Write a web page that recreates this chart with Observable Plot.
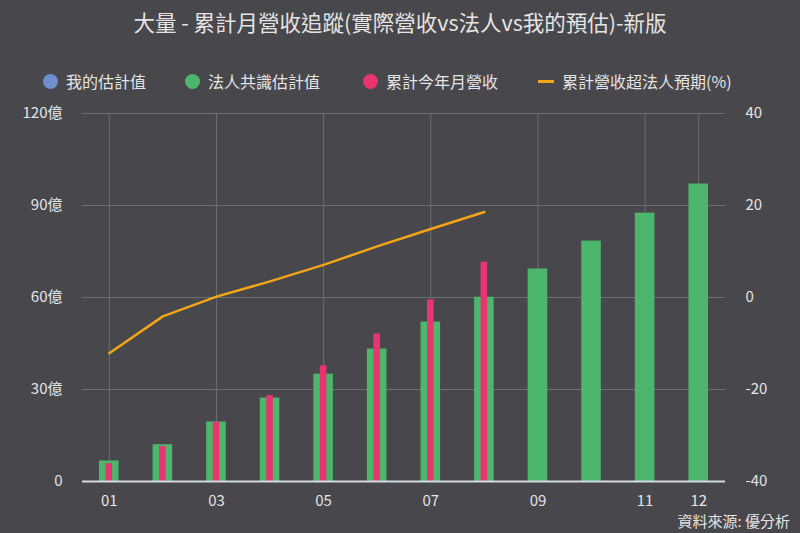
<!DOCTYPE html>
<html>
<head>
<meta charset="utf-8">
<script src="https://cdn.jsdelivr.net/npm/d3@7"></script>
<script src="https://cdn.jsdelivr.net/npm/@observablehq/plot@0.6"></script>
<style>
  body { margin: 0; background: #48474c; }
  #wrap { position: relative; width: 800px; height: 533px; background: #48474c; overflow: hidden;
          font-family: "Noto Sans CJK TC", "Noto Sans", sans-serif; color: #e4e4e4; }
  #title { position: absolute; top: 6px; left: 0; width: 800px; text-align: center; font-size: 21.5px; }
  .lg { position: absolute; top: 69px; font-size: 16px; white-space: nowrap; display: flex; align-items: center; }
  .dot { width: 15px; height: 15px; border-radius: 50%; display: inline-block; margin-right: 8px; }
  .ln { width: 16px; height: 3px; display: inline-block; margin-right: 8px; }
  #chart { position: absolute; top: 95px; left: 0; }
  #caption { position: absolute; right: 10px; top: 510px; font-size: 15px; }
</style>
</head>
<body>
<div id="wrap">
  <div id="title">大量 - 累計月營收追蹤(實際營收vs法人vs我的預估)-新版</div>
  <div id="legend"></div>
  <div id="chart"></div>
  <div id="caption">資料來源: 優分析</div>
</div>
<script>
const months = ["01","02","03","04","05","06","07","08","09","10","11","12"];
const consensus = [6.7, 12.0, 19.4, 27.2, 35.0, 43.2, 52.0, 60.1, 69.3, 78.4, 87.5, 97.0];
const actual = [5.8, 11.4, 19.3, 28.0, 37.7, 48.1, 59.2, 71.5];
const beatPct = [-12.1, -4.1, 0.2, 3.5, 7.1, 11.1, 14.9, 18.6];
const leftTicks = [0, 30, 60, 90, 120];
const rightTicks = [-40, -20, 0, 20, 40];
const xTickLabels = ["01","03","05","07","09","11","12"];
const legendNames = ["我的估計值", "法人共識估計值", "累計今年月營收", "累計營收超法人預期(%)"];
const colors = ["#6f8fcf", "#4bb66c", "#e8356f", "#f2a516"];

// legend
const legendLeft = [43, 185, 363, 538];
const lg = document.getElementById("legend");
legendNames.forEach((n, i) => {
  const d = document.createElement("div");
  d.className = "lg";
  d.style.left = legendLeft[i] + "px";
  const sw = document.createElement("span");
  sw.className = i === 3 ? "ln" : "dot";
  sw.style.background = colors[i];
  d.appendChild(sw);
  d.appendChild(document.createTextNode(n));
  lg.appendChild(d);
});

const lMin = leftTicks[0], lMax = leftTicks[leftTicks.length - 1];
const rMin = rightTicks[0], rMax = rightTicks[rightTicks.length - 1];
const toLeft = p => lMin + (p - rMin) / (rMax - rMin) * (lMax - lMin);

const consRows = months.map((m, i) => ({m, v: consensus[i]}));
const actRows = actual.map((v, i) => ({m: months[i], v}));
const lineRows = beatPct.map((p, i) => ({m: months[i], v: toLeft(p)}));

const font = '"Noto Sans CJK TC", "Noto Sans", sans-serif';
const chart = Plot.plot({
  width: 800,
  height: 420,
  marginTop: 18,
  marginBottom: 34,
  marginLeft: 82,
  marginRight: 75,
  style: {background: "transparent", color: "#e4e4e4", fontFamily: font, fontSize: "15px"},
  x: {type: "band", domain: months, padding: 0, round: false, axis: null},
  y: {domain: [lMin, lMax], axis: null},
  marks: [
    Plot.ruleY(leftTicks, {stroke: "#6e6d73", strokeWidth: 1}),
    Plot.ruleX(xTickLabels, {x: d => d, y1: lMin, y2: lMax, stroke: "#6e6d73", strokeWidth: 1}),
    Plot.barY(consRows, {x: "m", y: "v", fill: colors[1], insetLeft: 17, insetRight: 17}),
    Plot.barY(actRows, {x: "m", y: "v", fill: colors[2], insetLeft: 23.5, insetRight: 23.5}),
    Plot.line(lineRows, {x: "m", y: "v", stroke: colors[3], strokeWidth: 2.5}),
    Plot.ruleY([lMin], {stroke: "#d3d9e3", strokeWidth: 2}),
    Plot.axisX({ticks: xTickLabels, tickSize: 0, tickPadding: 14, fontSize: 15, label: null}),
    Plot.axisY({anchor: "left", ticks: leftTicks, tickSize: 0, tickPadding: 20, label: null,
                tickFormat: d => d === 0 ? "0" : d + "億", fontSize: 15}),
    Plot.axisY({anchor: "right", ticks: leftTicks, tickSize: 0, tickPadding: 20, label: null,
                tickFormat: (d, i) => String(rightTicks[i]), fontSize: 15})
  ]
});
document.getElementById("chart").appendChild(chart);
</script>
</body>
</html>
